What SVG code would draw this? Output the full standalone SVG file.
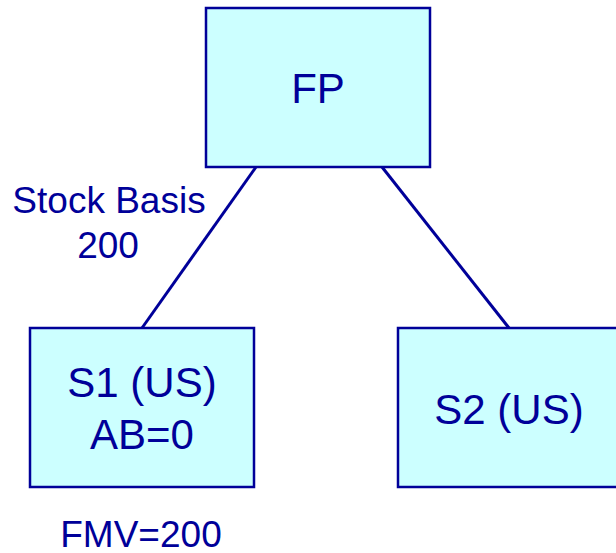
<svg xmlns="http://www.w3.org/2000/svg" width="616" height="553" viewBox="0 0 616 553">
  <style>
    .box { fill: #ccffff; stroke: #000099; stroke-width: 2.5; }
    .link { stroke: #000099; stroke-width: 3; fill: none; }
    .t { font-family: "Liberation Sans", Arial, sans-serif; fill: #000099; text-anchor: middle; }
    .big { font-size: 42px; }
    .small { font-size: 37px; }
  </style>
  <rect width="616" height="553" fill="#ffffff"/>
  <g id="connectors">
    <line class="link" x1="256" y1="167" x2="142" y2="328"/>
    <line class="link" x1="382" y1="167" x2="509" y2="328"/>
  </g>
  <g id="fp">
    <rect class="box" x="206" y="8" width="224" height="159"/>
    <text class="t big" x="318" y="103">FP</text>
  </g>
  <g id="s1">
    <rect class="box" x="30" y="328" width="224" height="159"/>
    <text class="t big" x="142" y="397">S1 (US)</text>
    <text class="t big" x="142" y="449">AB=0</text>
  </g>
  <g id="s2">
    <rect class="box" x="398" y="328" width="224" height="159"/>
    <text class="t big" x="509" y="424">S2 (US)</text>
  </g>
  <g id="stock-basis">
    <text class="t small" x="109" y="213">Stock Basis</text>
    <text class="t small" x="108" y="258">200</text>
  </g>
  <g id="fmv">
    <text class="t small" x="141" y="547">FMV=200</text>
  </g>
</svg>
